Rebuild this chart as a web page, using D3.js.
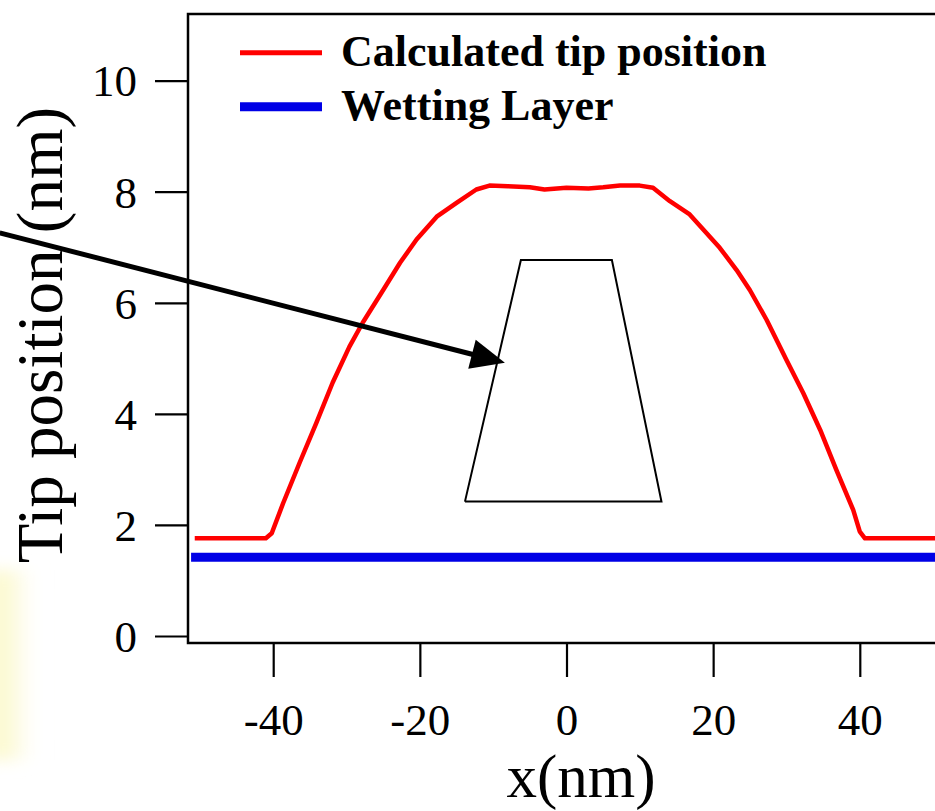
<!DOCTYPE html>
<html>
<head>
<meta charset="utf-8">
<script src="https://cdn.jsdelivr.net/npm/d3@7/dist/d3.min.js"></script>
<style>
  html, body { margin: 0; padding: 0; background: #fff; }
  svg { display: block; }
  text { font-family: "Liberation Serif", "Times New Roman", serif; fill: #000; }
</style>
</head>
<body>
<svg id="chart" width="935" height="811"></svg>
<script>
// ---- data ----
const tipX = [-50.7, -41.0, -40.2, -38.65, -36.4, -34.1, -31.9, -29.6, -27.8, -25.0, -22.7, -20.45, -17.7, -15.0, -12.3, -10.5, -8.0, -5.0, -3.0, 0.0, 3.0, 5.0, 7.3, 10.0, 11.8, 14.1, 16.8, 18.65, 20.9, 23.2, 25.0, 27.3, 30.0, 32.3, 34.6, 36.8, 39.1, 40.0, 40.7, 51.6];
const tipY = [1.76, 1.76, 1.85, 2.39, 3.12, 3.84, 4.56, 5.21, 5.64, 6.23, 6.72, 7.14, 7.55, 7.80, 8.04, 8.11, 8.10, 8.08, 8.04, 8.07, 8.06, 8.08, 8.11, 8.11, 8.07, 7.83, 7.59, 7.32, 6.99, 6.59, 6.23, 5.69, 4.97, 4.37, 3.71, 2.99, 2.27, 1.88, 1.76, 1.76];
const wettingX = [-51.2, 51.6];
const wettingY = [1.42, 1.42];
const tipShapeX = [-13.85, -6.22, 6.19, 12.95, -13.85];
const tipShapeY = [2.42, 6.77, 6.77, 2.42, 2.42];
const arrowX = [-77.3, -8.4];
const arrowY = [7.26, 4.92];
const xTicks = [-40, -20, 0, 20, 40];
const yTicks = [0, 2, 4, 6, 8, 10];
const seriesNames = ["Calculated tip position", "Wetting Layer"];
const seriesColors = ["#ff0000", "#0000e6"];

// ---- layout ----
const svg = d3.select("#chart");
const pLeft = 188, pRight = 945, pTop = 14, pBottom = 643;
const x = d3.scaleLinear().domain([-51.62, 51.62]).range([pLeft, pRight]);
const y = d3.scaleLinear().domain([-0.126, 11.2]).range([pBottom, pTop]);

// faint yellow glow at left edge
const defs = svg.append("defs");
const grad = defs.append("linearGradient").attr("id", "glow").attr("x1", "0").attr("x2", "1").attr("y1", "0").attr("y2", "0");
grad.append("stop").attr("offset", "0").attr("stop-color", "#fbf8c4");
grad.append("stop").attr("offset", "0.5").attr("stop-color", "#fdfbe0");
grad.append("stop").attr("offset", "1").attr("stop-color", "#ffffff").attr("stop-opacity", 0);
const blur = defs.append("filter").attr("id", "blur").attr("x", "-50%").attr("y", "-50%").attr("width", "200%").attr("height", "200%");
blur.append("feGaussianBlur").attr("stdDeviation", 8);
svg.append("rect").attr("x", -10).attr("y", 570).attr("width", 50).attr("height", 190)
  .attr("fill", "url(#glow)").attr("filter", "url(#blur)");

// frame
svg.append("rect").attr("x", pLeft).attr("y", pTop).attr("width", pRight - pLeft).attr("height", pBottom - pTop)
  .attr("fill", "none").attr("stroke", "#000").attr("stroke-width", 2.5);

// axes
const yAxis = d3.axisLeft(y).tickValues(yTicks).tickSize(33).tickPadding(18).tickFormat(d3.format("d"));
const gy = svg.append("g").attr("transform", `translate(${pLeft},0)`).call(yAxis);
gy.select(".domain").remove();
gy.selectAll(".tick line").attr("stroke", "#000").attr("stroke-width", 2.2);
gy.selectAll(".tick text").attr("font-size", 45).attr("dy", "0.34em")
  .style("font-family", '"Liberation Serif", "Times New Roman", serif');

const xAxis = d3.axisBottom(x).tickValues(xTicks).tickSize(34).tickPadding(26).tickFormat(d => String(d));
const gx = svg.append("g").attr("transform", `translate(0,${pBottom})`).call(xAxis);
gx.select(".domain").remove();
gx.selectAll(".tick line").attr("stroke", "#000").attr("stroke-width", 2.2);
gx.selectAll(".tick text").attr("font-size", 45).attr("dy", "0.71em")
  .style("font-family", '"Liberation Serif", "Times New Roman", serif');

// axis titles
svg.append("text").attr("transform", "translate(62,335) rotate(-90)").attr("text-anchor", "middle")
  .attr("font-size", 65).text("Tip position (nm)");
svg.append("text").attr("x", 581).attr("y", 797).attr("text-anchor", "middle")
  .attr("font-size", 61).text("x(nm)");

// series
const line = d3.line().x(d => x(d[0])).y(d => y(d[1]));
svg.append("path").datum(d3.zip(wettingX, wettingY)).attr("d", line)
  .attr("fill", "none").attr("stroke", seriesColors[1]).attr("stroke-width", 9);
svg.append("path").datum(d3.zip(tipX, tipY)).attr("d", line)
  .attr("fill", "none").attr("stroke", seriesColors[0]).attr("stroke-width", 4.5).attr("stroke-linejoin", "round");

// tip shape
svg.append("path").datum(d3.zip(tipShapeX, tipShapeY)).attr("d", line)
  .attr("fill", "none").attr("stroke", "#000").attr("stroke-width", 2);

// arrow
const ax0 = x(arrowX[0]), ay0 = y(arrowY[0]), ax1 = x(arrowX[1]), ay1 = y(arrowY[1]);
const ang = Math.atan2(ay1 - ay0, ax1 - ax0);
const headLen = 34, headHalf = 15;
const bx = ax1 - headLen * Math.cos(ang), by = ay1 - headLen * Math.sin(ang);
svg.append("line").attr("x1", ax0).attr("y1", ay0).attr("x2", bx + 4 * Math.cos(ang)).attr("y2", by + 4 * Math.sin(ang))
  .attr("stroke", "#000").attr("stroke-width", 5);
svg.append("polygon").attr("points", [
  [ax1, ay1],
  [bx + headHalf * Math.sin(ang), by - headHalf * Math.cos(ang)],
  [bx - headHalf * Math.sin(ang), by + headHalf * Math.cos(ang)]
].map(p => p.join(",")).join(" ")).attr("fill", "#000");

// legend
const legend = svg.append("g");
const legY = [52.7, 106.7];
const legW = [5, 9];
seriesNames.forEach((n, i) => {
  legend.append("line").attr("x1", 240).attr("x2", 322).attr("y1", legY[i]).attr("y2", legY[i])
    .attr("stroke", seriesColors[i]).attr("stroke-width", legW[i]);
  legend.append("text").attr("x", 341).attr("y", legY[i] + 13).attr("font-size", 44)
    .attr("font-weight", "bold").text(n);
});
</script>
</body>
</html>
